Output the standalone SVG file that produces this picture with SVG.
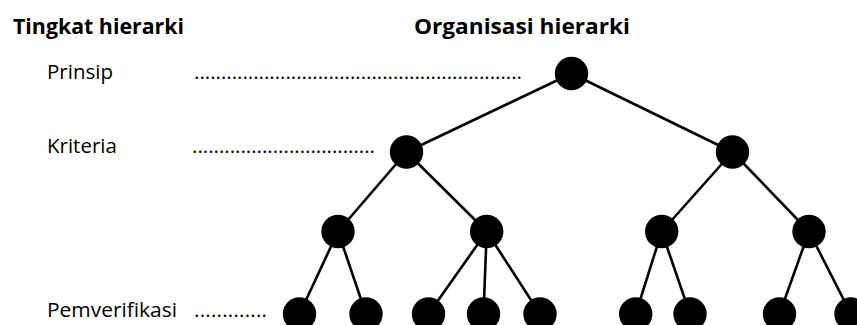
<svg xmlns="http://www.w3.org/2000/svg" width="857" height="325" viewBox="0 0 857 325">
<style>
text{font-family:"Open Sans","Liberation Sans",sans-serif;font-size:20.5px;fill:#000}
.h{font-weight:bold;font-size:21.5px}
.n{fill:#000}
.e{stroke:#000;stroke-width:2.6;fill:none}
</style>
<rect width="857" height="325" fill="#fff"/>
<g id="labels">
<text class="h" x="13" y="34" textLength="171" lengthAdjust="spacingAndGlyphs">Tingkat hierarki</text>
<text class="h" x="414" y="34" textLength="216" lengthAdjust="spacingAndGlyphs">Organisasi hierarki</text>
<text x="47" y="79">Prinsip</text>
<text x="194" y="79" textLength="328" lengthAdjust="spacing">.............................................................</text>
<text x="47" y="153">Kriteria</text>
<text x="192" y="153" textLength="183" lengthAdjust="spacing">..................................</text>
<text x="47" y="317" textLength="130" lengthAdjust="spacingAndGlyphs">Pemverifikasi</text>
<text x="194" y="317" textLength="73" lengthAdjust="spacing">.............</text>
</g>
<g id="connectors" class="e">
<line x1="571.5" y1="73.5" x2="406.5" y2="152"/>
<line x1="571.5" y1="73.5" x2="732.5" y2="152"/>
<line x1="406.5" y1="152" x2="338" y2="231.5"/>
<line x1="406.5" y1="152" x2="486.7" y2="231.5"/>
<line x1="732.5" y1="152" x2="661.7" y2="231.5"/>
<line x1="732.5" y1="152" x2="809" y2="231.5"/>
<line x1="338" y1="231.5" x2="299.5" y2="314"/>
<line x1="338" y1="231.5" x2="366" y2="314"/>
<line x1="486.7" y1="231.5" x2="428.5" y2="314"/>
<line x1="486.7" y1="231.5" x2="483.5" y2="314"/>
<line x1="486.7" y1="231.5" x2="540" y2="314"/>
<line x1="661.7" y1="231.5" x2="635.7" y2="314"/>
<line x1="661.7" y1="231.5" x2="690" y2="314"/>
<line x1="809" y1="231.5" x2="779.5" y2="314"/>
<line x1="809" y1="231.5" x2="851" y2="314"/>
</g>
<g id="n-root"><circle class="n" cx="571.5" cy="73.5" r="16.7"/></g>
<g id="n-k1"><circle class="n" cx="406.5" cy="152" r="16.7"/></g>
<g id="n-k2"><circle class="n" cx="732.5" cy="152" r="16.7"/></g>
<g id="n-i1"><circle class="n" cx="338" cy="231.5" r="16.7"/></g>
<g id="n-i2"><circle class="n" cx="486.7" cy="231.5" r="16.7"/></g>
<g id="n-i3"><circle class="n" cx="661.7" cy="231.5" r="16.7"/></g>
<g id="n-i4"><circle class="n" cx="809" cy="231.5" r="16.7"/></g>
<g id="n-v1"><circle class="n" cx="299.5" cy="314" r="16.7"/></g>
<g id="n-v2"><circle class="n" cx="366" cy="314" r="16.7"/></g>
<g id="n-v3"><circle class="n" cx="428.5" cy="314" r="16.7"/></g>
<g id="n-v4"><circle class="n" cx="483.5" cy="314" r="16.7"/></g>
<g id="n-v5"><circle class="n" cx="540" cy="314" r="16.7"/></g>
<g id="n-v6"><circle class="n" cx="635.7" cy="314" r="16.7"/></g>
<g id="n-v7"><circle class="n" cx="690" cy="314" r="16.7"/></g>
<g id="n-v8"><circle class="n" cx="779.5" cy="314" r="16.7"/></g>
<g id="n-v9"><circle class="n" cx="851" cy="314" r="16.7"/></g>
</svg>
